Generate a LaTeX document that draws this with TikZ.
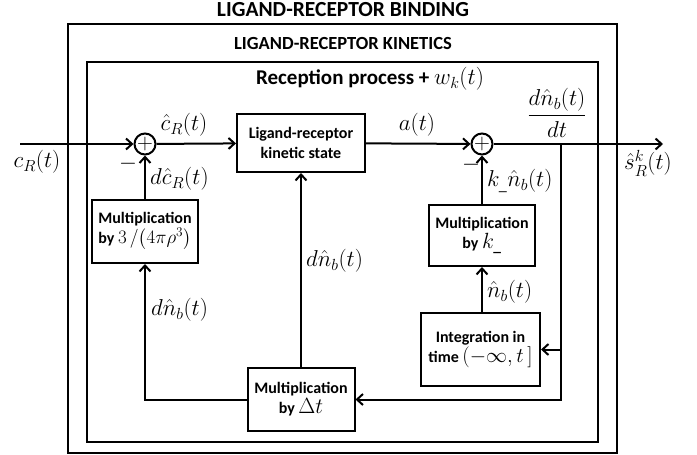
\RequirePackage{fix-cm}
\documentclass[tikz,border=0pt]{standalone}
\usepackage{amsmath}
\usepackage{fontspec}
\setmainfont{Carlito}
\usetikzlibrary{arrows.meta}
\tikzset{
  block/.style={draw,line width=2pt,align=center,inner sep=2pt,
    font=\bfseries\fontsize{16}{20}\selectfont},
  sumnode/.style={draw,circle,line width=2pt,minimum size=19pt,inner sep=0pt,
    font=\fontsize{22}{20}\selectfont},
  lbl/.style={font=\fontsize{23}{24}\selectfont,inner sep=1pt},
  flow/.style={line width=2pt,-{Straight Barb[length=6pt,width=11pt,line width=2pt]}},
  wire/.style={line width=2pt}
}
\begin{document}
\begin{tikzpicture}[x=1pt,y=-1pt]
\useasboundingbox (0,0) rectangle (697,455);
% frames
\draw[wire] (68,24) rectangle (617,453);
\draw[wire] (87,62) rectangle (598,442);
\node[font=\bfseries\fontsize{21.5}{23}\selectfont] (ttl) at (343,10) {LIGAND-RECEPTOR BINDING};
\node[font=\bfseries\fontsize{18.5}{20}\selectfont] (kin) at (343,43) {LIGAND-RECEPTOR KINETICS};
\node[font=\bfseries\fontsize{21}{23}\selectfont] (rcp) at (370,79) {Reception process + \fontsize{23}{23}\selectfont$w_k(t)$};
% blocks
\coordinate (in) at (20,144);
\node[sumnode] (s1) at (145,144) {$+$};
\node[block,minimum width=128pt,minimum height=58pt] (lr) at (301,143) {Ligand-receptor\\kinetic state};
\node[sumnode] (s2) at (482,144) {$+$};
\coordinate (br) at (561,144);
\coordinate (out) at (663,144);
\node[block,align=left,minimum width=106pt,minimum height=63pt] (m3) at (145,231.5) {Multiplication\\by {\fontsize{19}{17}\selectfont$3\,/\bigl(4\pi\rho^3\bigr)$}};
\node[block,minimum width=106pt,minimum height=61pt] (mk) at (482,235.5) {Multiplication\\by {\fontsize{22}{17}\selectfont$k_{\_}$}};
\node[block,minimum width=119pt,minimum height=73pt] (ig) at (480.5,349.5) {Integration in\\time {\fontsize{21}{17}\selectfont$(-\infty,t\,]$}};
\node[block,minimum width=107pt,minimum height=63pt] (dt) at (301,399.5) {Multiplication\\by {\fontsize{22}{17}\selectfont$\Delta t$}};
% connections
\draw[flow] (in) -- (s1);
\draw[flow] (s1) -- (lr);
\draw[flow] (lr) -- (s2);
\draw[flow] (s2) -- (out);
\draw[flow] (br) |- (dt.east);
\draw[flow] (br |- ig.east) -- (ig.east);
\draw[flow] (ig.north -| mk) -- (mk);
\draw[flow] (mk) -- (s2);
\draw[flow] (m3) -- (s1);
\draw[flow] (dt.west) -| (m3.south);
\draw[flow] (dt) -- (lr);
% labels
\node[lbl] (lcr) at (37,162) {$c_R(t)$};
\node[lbl] (lch) at (184,125) {$\hat{c}_R(t)$};
\node[lbl] (la) at (417,125) {$a(t)$};
\node[lbl] (ldn) at (557,113) {$\dfrac{d\hat{n}_b(t)}{dt}$};
\node[lbl] (ls) at (648,163) {$\hat{s}^k_R(t)$};
\node[lbl] (m1) at (128,164) {$-$};
\node[lbl] (m2) at (471,165) {$-$};
\node[lbl,anchor=west] (ldc) at (149,179) {$d\hat{c}_R(t)$};
\node[lbl,anchor=west] (lkn) at (486,181) {$k_{\_}\hat{n}_b(t)$};
\node[lbl,anchor=west] (lnb) at (486,292) {$\hat{n}_b(t)$};
\node[lbl,anchor=west] (ldn1) at (305,261) {$d\hat{n}_b(t)$};
\node[lbl,anchor=west] (ldn2) at (150,310) {$d\hat{n}_b(t)$};
\end{tikzpicture}
\end{document}
